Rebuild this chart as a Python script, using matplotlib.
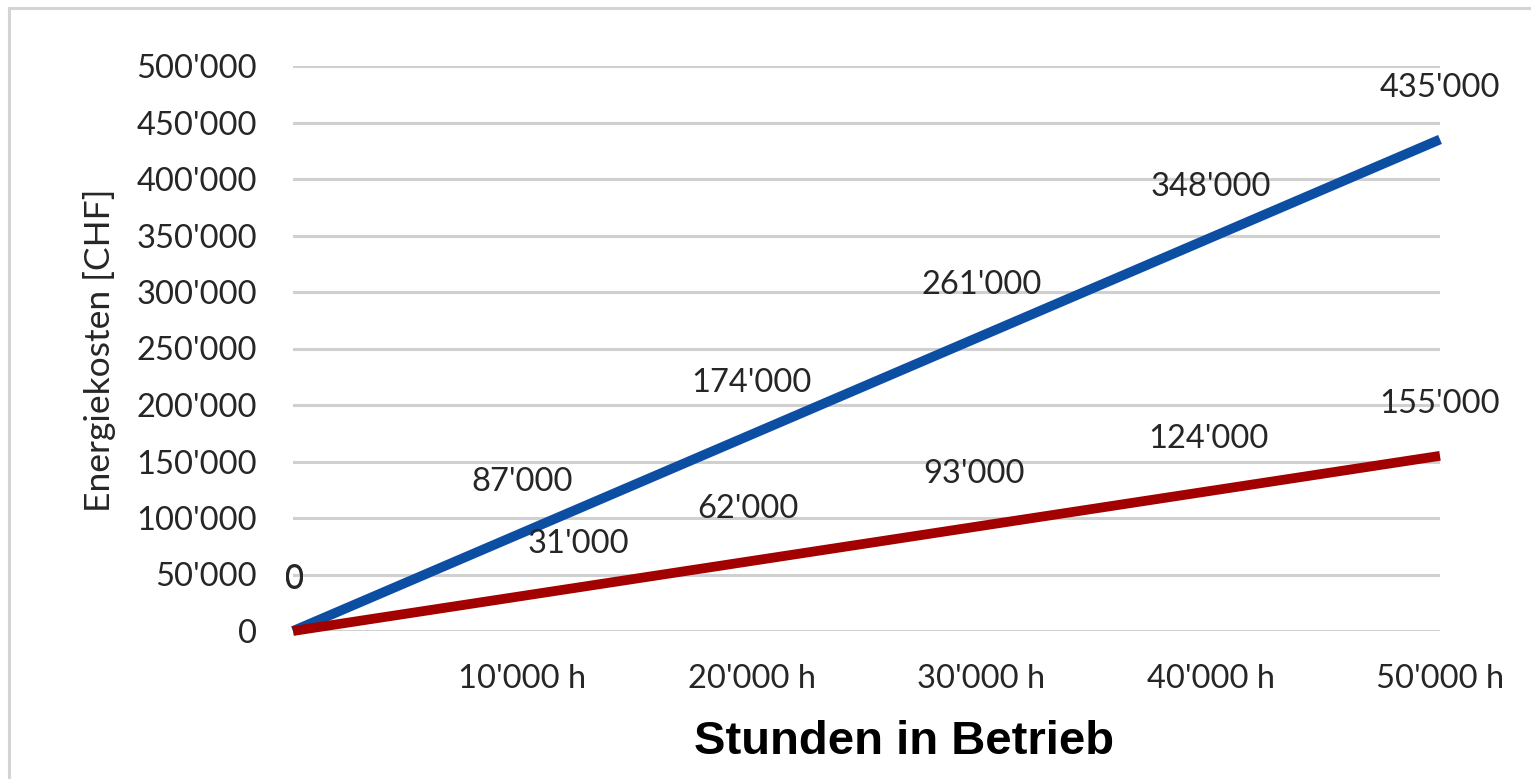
import matplotlib
matplotlib.use("Agg")
import matplotlib.pyplot as plt
from matplotlib.patches import Rectangle

# Operating hours and cumulative energy cost for two lamp types
hours = [0, 10000, 20000, 30000, 40000, 50000]
cost_high = [0, 87000, 174000, 261000, 348000, 435000]
cost_low = [0, 31000, 62000, 93000, 124000, 155000]
x_tick_labels = ["", "10'000 h", "20'000 h", "30'000 h", "40'000 h", "50'000 h"]
y_ticks = [0, 50000, 100000, 150000, 200000, 250000, 300000, 350000, 400000, 450000, 500000]

BLUE = "#0b4ea2"
RED = "#a30000"
TEXT = "#262626"
GRID = "#d0d0d0"
FS = 23.5

plt.rcParams["font.family"] = ["Lato", "DejaVu Sans"]

W, H, DPI = 1531, 779, 100
fig = plt.figure(figsize=(W / DPI, H / DPI), dpi=DPI)
fig.patch.set_facecolor("white")

# outer chart frame
fig.patches.append(Rectangle((9 / W, -0.05), 1.2, 1 - 8 / H + 0.05,
                             transform=fig.transFigure, fill=False,
                             edgecolor="#d4d4d4", linewidth=2.2))

left, right = 293 / W, 1440 / W
bottom, top = 1 - 631 / H, 1 - 66 / H
ax = fig.add_axes([left, bottom, right - left, top - bottom])

ax.set_xlim(0, 50000)
ax.set_ylim(0, 500000)

for s in ax.spines.values():
    s.set_visible(False)

ax.set_yticks(y_ticks)
ax.set_yticklabels([f"{v:,}".replace(",", "'") for v in y_ticks])
ax.set_xticks(hours)
ax.set_xticklabels(x_tick_labels)
ax.tick_params(axis="both", length=0, labelsize=FS, labelcolor=TEXT)
ax.tick_params(axis="y", pad=26)
ax.tick_params(axis="x", pad=24)

ax.grid(axis="y", color=GRID, linewidth=2.2, zorder=0)
ax.set_axisbelow(True)

ax.plot(hours, cost_high, color=BLUE, linewidth=7, solid_capstyle="butt",
        clip_on=False, zorder=3)
ax.plot(hours, cost_low, color=RED, linewidth=7, solid_capstyle="butt",
        clip_on=False, zorder=4)

px = 0.72  # points per pixel at 100 dpi


def label_points(xs, ys, dx_list, dy):
    for xv, yv, dx in zip(xs, ys, dx_list):
        txt = f"{yv:,}".replace(",", "'")
        ax.annotate(txt, (xv, yv), xytext=(dx * px, dy * px),
                    textcoords="offset points", ha="center", va="center",
                    fontsize=FS, color=TEXT, zorder=5, annotation_clip=False)


label_points(hours, cost_high, [2, 0, 0, 0, 0, 0], 51)
label_points(hours, cost_low, [2, 56, -4, -7, -2, 0], 52)

fig.text(100 / W, 1 - 350 / H, "Energiekosten [CHF]", rotation=90,
         ha="center", va="center", fontsize=25.5, color=TEXT)
fig.text(904 / W, 1 - 742 / H, "Stunden in Betrieb", ha="center", va="center",
         fontsize=34, fontweight="bold", color="black",
         family=["Liberation Sans", "DejaVu Sans"])

fig.savefig("out.png", dpi=DPI, facecolor="white")
